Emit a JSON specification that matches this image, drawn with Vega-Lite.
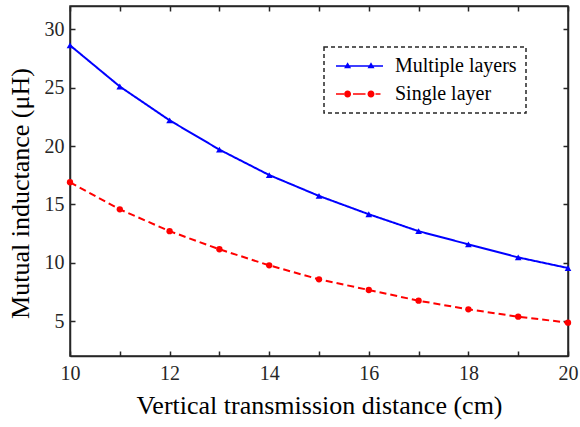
{
  "$schema": "https://vega.github.io/schema/vega-lite/v6.json",
  "width": 498,
  "height": 350,
  "autosize": {"type": "none"},
  "padding": {"left": 70, "top": 6, "right": 12, "bottom": 71},
  "config": {
    "view": {"stroke": "#262626", "strokeWidth": 1.5},
    "font": "Liberation Serif",
    "axis": {
      "grid": false,
      "domainColor": "#262626",
      "domainWidth": 1.5,
      "tickColor": "#262626",
      "tickWidth": 1.5,
      "tickSize": -5,
      "labelColor": "#262626",
      "labelFont": "Liberation Serif",
      "labelFontSize": 20,
      "titleFont": "Liberation Serif",
      "titleFontSize": 26,
      "titleFontWeight": "normal",
      "titleColor": "#000000",
      "labelFlush": false,
      "labelOverlap": false
    },
    "legend": {
      "labelFont": "Liberation Serif",
      "labelFontSize": 20,
      "labelColor": "#000000"
    }
  },
  "resolve": {"axis": {"x": "independent", "y": "independent"}},
  "data": {
    "values": [
      {"x": 10, "y": 28.63, "series": "Multiple layers"},
      {"x": 11, "y": 25.1, "series": "Multiple layers"},
      {"x": 12, "y": 22.2, "series": "Multiple layers"},
      {"x": 13, "y": 19.69, "series": "Multiple layers"},
      {"x": 14, "y": 17.51, "series": "Multiple layers"},
      {"x": 15, "y": 15.72, "series": "Multiple layers"},
      {"x": 16, "y": 14.15, "series": "Multiple layers"},
      {"x": 17, "y": 12.7, "series": "Multiple layers"},
      {"x": 18, "y": 11.57, "series": "Multiple layers"},
      {"x": 19, "y": 10.45, "series": "Multiple layers"},
      {"x": 20, "y": 9.54, "series": "Multiple layers"},
      {"x": 10, "y": 16.89, "series": "Single layer"},
      {"x": 11, "y": 14.57, "series": "Single layer"},
      {"x": 12, "y": 12.7, "series": "Single layer"},
      {"x": 13, "y": 11.15, "series": "Single layer"},
      {"x": 14, "y": 9.77, "series": "Single layer"},
      {"x": 15, "y": 8.57, "series": "Single layer"},
      {"x": 16, "y": 7.66, "series": "Single layer"},
      {"x": 17, "y": 6.74, "series": "Single layer"},
      {"x": 18, "y": 6.0, "series": "Single layer"},
      {"x": 19, "y": 5.37, "series": "Single layer"},
      {"x": 20, "y": 4.86, "series": "Single layer"}
    ]
  },
  "layer": [
    {
      "mark": {"type": "line", "strokeWidth": 2},
      "encoding": {
        "x": {
          "field": "x", "type": "quantitative",
          "scale": {"domain": [10, 20], "nice": false, "zero": false},
          "axis": {
            "orient": "bottom",
            "values": [10, 11, 12, 13, 14, 15, 16, 17, 18, 19, 20],
            "labelExpr": "datum.value % 2 == 0 ? datum.label : ''",
            "labelPadding": 12,
            "title": "Vertical transmission distance (cm)",
            "titlePadding": 9
          }
        },
        "y": {
          "field": "y", "type": "quantitative",
          "scale": {"domain": [2, 32], "nice": false, "zero": false},
          "axis": {
            "orient": "left",
            "values": [5, 10, 15, 20, 25, 30],
            "labelPadding": 11,
            "title": "Mutual inductance (μH)",
            "titlePadding": 11,
            "titleY": 187
          }
        },
        "color": {
          "field": "series", "type": "nominal",
          "scale": {"domain": ["Multiple layers", "Single layer"], "range": ["#0000ff", "#ff0000"]}
        },
        "strokeDash": {
          "field": "series", "type": "nominal",
          "scale": {"domain": ["Multiple layers", "Single layer"], "range": [[1, 0], [7, 4]]},
          "legend": null
        }
      }
    },
    {
      "transform": [{"filter": "datum.series == 'Multiple layers'"}],
      "mark": {"type": "point", "shape": "triangle-up", "filled": true, "size": 45, "opacity": 1},
      "encoding": {
        "x": {"field": "x", "type": "quantitative", "axis": null},
        "y": {"field": "y", "type": "quantitative", "axis": null},
        "color": {"field": "series", "type": "nominal"}
      }
    },
    {
      "transform": [{"filter": "datum.series == 'Single layer'"}],
      "mark": {"type": "point", "shape": "circle", "filled": true, "size": 40, "opacity": 1},
      "encoding": {
        "x": {"field": "x", "type": "quantitative", "axis": null},
        "y": {"field": "y", "type": "quantitative", "axis": null},
        "color": {"field": "series", "type": "nominal"}
      }
    },
    {
      "mark": {"type": "point", "filled": true, "size": 100, "opacity": 0},
      "encoding": {
        "x": {
          "field": "x", "type": "quantitative",
          "axis": {"orient": "top", "labels": false, "title": null, "values": [10, 11, 12, 13, 14, 15, 16, 17, 18, 19, 20]}
        },
        "y": {
          "field": "y", "type": "quantitative",
          "axis": {"orient": "right", "labels": false, "title": null, "values": [5, 10, 15, 20, 25, 30]}
        },
        "color": {
          "field": "series", "type": "nominal",
          "legend": {
            "orient": "none",
            "legendX": 254,
            "legendY": 41,
            "title": null,
            "padding": 9,
            "strokeColor": "#262626",
            "symbolSize": 100,
            "symbolOpacity": 1,
            "symbolStrokeWidth": 0,
            "labelOffset": 42,
            "rowPadding": 8,
            "encode": {
              "legend": {"update": {"strokeDash": {"value": [4, 3]}, "strokeWidth": {"value": 1.5}}}
            }
          }
        },
        "shape": {
          "field": "series", "type": "nominal",
          "scale": {
            "domain": ["Multiple layers", "Single layer"],
            "range": [
              "M-1.4,-0.16H8V0.16H-1.4Z M0.92,-0.75L1.62,0.45L0.22,0.45Z M5.6,-0.75L6.3,0.45L4.9,0.45Z",
              "M-1.4,-0.16H0.2V0.16H-1.4Z M2,-0.16H4.5V0.16H2Z M6.5,-0.16H7.5V0.16H6.5Z M0.22,0A0.7,0.7 0 1,0 1.62,0A0.7,0.7 0 1,0 0.22,0Z M4.9,0A0.7,0.7 0 1,0 6.3,0A0.7,0.7 0 1,0 4.9,0Z"
            ]
          }
        }
      }
    }
  ]
}
